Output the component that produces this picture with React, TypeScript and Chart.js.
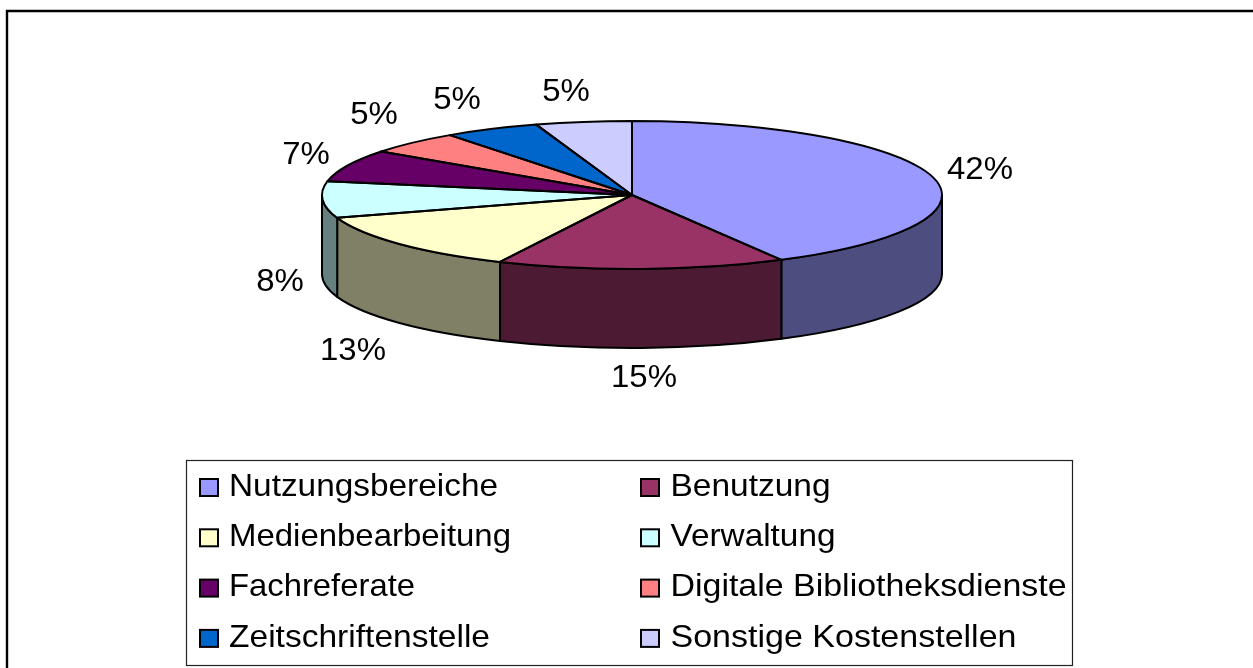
import React, { useEffect, useRef } from "react";
import { Chart, registerables } from "chart.js";

Chart.register(...registerables);

const categories = [
  "Nutzungsbereiche",
  "Benutzung",
  "Medienbearbeitung",
  "Verwaltung",
  "Fachreferate",
  "Digitale Bibliotheksdienste",
  "Zeitschriftenstelle",
  "Sonstige Kostenstellen",
];
const shares = [42, 15, 13, 8, 7, 5, 5, 5];
const topColors = ["#9999FF", "#993366", "#FFFFCC", "#CCFFFF", "#660066", "#FF8080", "#0066CC", "#CCCCFF"];
const sideColors = ["#4D4D80", "#4D1A33", "#808066", "#668080", "#330033", "#804040", "#003366", "#666680"];
const labelCentres = [
  [980, 168], [644, 376], [353, 349], [280, 280],
  [306, 153], [374, 113], [457, 98], [566, 90],
];
const legendTextWidths = [269, 160, 282, 165, 186, 396, 261, 346];

const SQUASH = 74 / 310;
const DEPTH = 79;
const FONT = "32px 'Liberation Sans', Arial, sans-serif";

function stretchedText(ctx: CanvasRenderingContext2D, text: string, x: number, y: number, align: CanvasTextAlign, stretch: number) {
  ctx.save();
  ctx.translate(x, y);
  ctx.scale(stretch, 1);
  ctx.font = FONT;
  ctx.fillStyle = "#000";
  ctx.textAlign = align;
  ctx.textBaseline = "alphabetic";
  ctx.fillText(text, 0, 0);
  ctx.restore();
}

const pie3d = {
  id: "pie3d",
  beforeDatasetDraw(chart: any) {
    const ctx: CanvasRenderingContext2D = chart.ctx;
    const arcs = chart.getDatasetMeta(0).data;
    ctx.save();
    ctx.lineWidth = 2;
    ctx.lineJoin = "round";
    ctx.strokeStyle = "#000";

    // Front wall: only the part of each slice that faces the viewer.
    arcs.forEach((arc: any, i: number) => {
      const a = Math.max(arc.startAngle, 0);
      const b = Math.min(arc.endAngle, Math.PI);
      if (b <= a) return;
      const rx = arc.outerRadius;
      const ry = rx * SQUASH;
      ctx.beginPath();
      ctx.ellipse(arc.x, arc.y, rx, ry, 0, a, b);
      ctx.lineTo(arc.x + rx * Math.cos(b), arc.y + ry * Math.sin(b) + DEPTH);
      ctx.ellipse(arc.x, arc.y + DEPTH, rx, ry, 0, b, a, true);
      ctx.closePath();
      ctx.fillStyle = sideColors[i];
      ctx.fill();
      ctx.stroke();
    });

    // Top face: the library's own arcs, flattened; outlined at an even width.
    arcs.forEach((arc: any) => {
      ctx.save();
      ctx.translate(arc.x, arc.y);
      ctx.scale(1, SQUASH);
      ctx.translate(-arc.x, -arc.y);
      arc.draw(ctx);
      ctx.restore();
    });
    arcs.forEach((arc: any) => {
      const rx = arc.outerRadius;
      ctx.beginPath();
      ctx.moveTo(arc.x, arc.y);
      ctx.ellipse(arc.x, arc.y, rx, rx * SQUASH, 0, arc.startAngle, arc.endAngle);
      ctx.closePath();
      ctx.stroke();
    });
    ctx.restore();
    return false;
  },
  afterDraw(chart: any) {
    const ctx: CanvasRenderingContext2D = chart.ctx;
    ctx.save();

    // Outer frame, top and left edges only.
    ctx.strokeStyle = "#000";
    ctx.lineWidth = 2.4;
    ctx.beginPath();
    ctx.moveTo(7, 668);
    ctx.lineTo(7, 11);
    ctx.lineTo(1253, 11);
    ctx.stroke();

    // Percent labels.
    shares.forEach((v, i) => {
      stretchedText(ctx, `${v}%`, labelCentres[i][0], labelCentres[i][1] + 11, "center", 1.03);
    });

    // Legend.
    ctx.strokeStyle = "#222";
    ctx.lineWidth = 1.2;
    ctx.strokeRect(186.5, 460.5, 886, 205);
    categories.forEach((name, i) => {
      const col = i % 2;
      const row = Math.floor(i / 2);
      const sx = col === 0 ? 200 : 641;
      const sy = 479 + row * 50.3;
      ctx.fillStyle = topColors[i];
      ctx.fillRect(sx, sy, 18, 17);
      ctx.strokeStyle = "#000";
      ctx.lineWidth = 2;
      ctx.strokeRect(sx, sy, 18, 17);
      ctx.font = FONT;
      const stretch = legendTextWidths[i] / ctx.measureText(name).width;
      stretchedText(ctx, name, col === 0 ? 229 : 670.5, 495.6 + row * 50.3, "left", stretch);
    });
    ctx.restore();
  },
};

export default function App() {
  const ref = useRef<HTMLCanvasElement>(null);
  useEffect(() => {
    const chart = new Chart(ref.current!, {
      type: "pie",
      data: {
        labels: categories,
        datasets: [{ data: shares, backgroundColor: topColors, borderWidth: 0 }],
      },
      options: {
        responsive: false,
        animation: false,
        radius: 310,
        layout: { padding: { left: 11, right: 0, top: 0, bottom: 278 } },
        plugins: { legend: { display: false }, tooltip: { enabled: false } },
      } as any,
      plugins: [pie3d as any],
    });
    return () => chart.destroy();
  }, []);
  return (
    <canvas
      ref={ref}
      width={1253}
      height={668}
      style={{ position: "absolute", left: 0, top: 0, display: "block", background: "#fff" }}
    />
  );
}
